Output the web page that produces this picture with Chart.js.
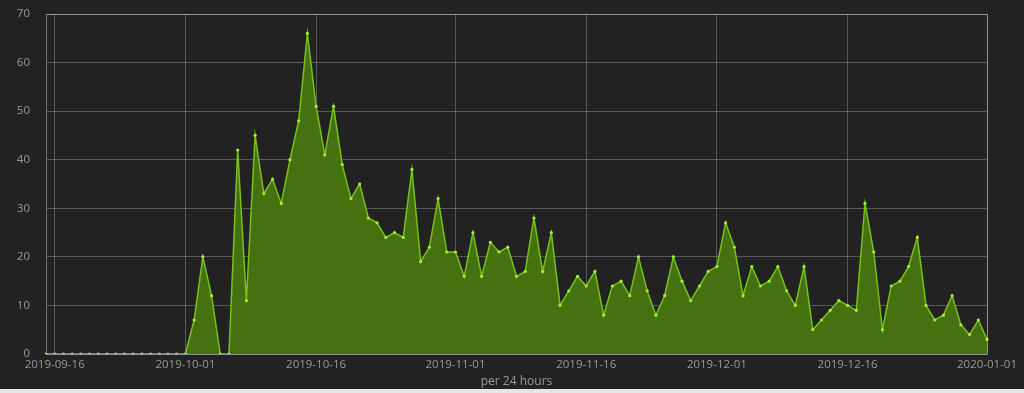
<!DOCTYPE html>
<html>
<head>
<meta charset="utf-8">
<script src="https://cdn.jsdelivr.net/npm/chart.js@4/dist/chart.umd.min.js"></script>
<style>
  html, body { margin: 0; padding: 0; background: #222222; overflow: hidden; }
  #wrap { position: relative; width: 1024px; height: 389px; }
  #strip { width: 1024px; height: 4px; background: #e6e6e6; }
</style>
</head>
<body>
<div id="wrap"><canvas id="graf"></canvas></div>
<div id="strip"></div>
<script>
// one value per day, 2019-09-15 .. 2020-01-01
var dias = [];
var inicio = new Date(Date.UTC(2019, 8, 15));
for (var i = 0; i < 109; i++) {
    var d = new Date(inicio.getTime() + i * 86400000);
    dias.push(d.toISOString().slice(0, 10));
}

var contagem = [
    0, 0, 0, 0, 0, 0, 0, 0, 0, 0, 0, 0, 0, 0, 0, 0, 0,   // 09-15 .. 10-01
    7, 20, 12, 0, 0, 42, 11, 45, 33, 36, 31, 40, 48, 66, 51, // 10-02 .. 10-16
    41, 51, 39, 32, 35, 28, 27, 24, 25, 24, 38, 19, 22, 32, 21, // 10-17 .. 10-31
    21, 16, 25, 16, 23, 21, 22, 16, 17, 28, 17, 25, 10, 13, 16, // 11-01 .. 11-15
    14, 17, 8, 14, 15, 12, 20, 13, 8, 12, 20, 15, 11, 14, 17,   // 11-16 .. 11-30
    18, 27, 22, 12, 18, 14, 15, 18, 13, 10, 18, 5, 7, 9, 11,    // 12-01 .. 12-15
    10, 9, 31, 21, 5, 14, 15, 18, 24, 10, 7, 8, 12, 6, 4, 7,    // 12-16 .. 12-31
    3                                                         // 01-01
];

var marcas = ['2019-09-16', '2019-10-01', '2019-10-16', '2019-11-01', '2019-11-16',
              '2019-12-01', '2019-12-16', '2020-01-01'];
var marcasY = [0, 10, 20, 30, 40, 50, 60, 70];

var ctx = document.getElementById('graf');

var data = {
    labels: dias,
    datasets: [{
        label: 'per 24 hours',
        data: contagem,
        fill: 'origin',
        tension: 0,
        backgroundColor: 'rgba(72, 118, 16, 0.95)',
        borderColor: '#76c21a',
        borderWidth: 1.5,
        pointRadius: 1.6,
        pointBackgroundColor: '#a6ec3c',
        pointBorderColor: '#a6ec3c',
        pointBorderWidth: 0
    }]
};

var config = {
    type: 'line',
    data: data,
    options: {
        responsive: true,
        maintainAspectRatio: false,
        animation: false,
        layout: { padding: { top: 14, right: 37, left: 0, bottom: 0 } },
        plugins: {
            legend: { display: false },
            tooltip: { enabled: false }
        },
        scales: {
            x: {
                offset: false,
                afterFit: function (scale) { scale.height = 35; },
                grid: { color: 'rgba(255,255,255,0.25)', drawTicks: false },
                border: { color: 'rgba(255,255,255,0.35)' },
                ticks: {
                    autoSkip: false,
                    maxRotation: 0,
                    padding: 4,
                    color: '#9a9a9a',
                    font: { family: 'Open Sans', size: 11.5 },
                    callback: function (value) {
                        var lbl = this.getLabelForValue(value);
                        return marcas.indexOf(lbl) >= 0 ? lbl : null;
                    }
                },
                title: {
                    display: true,
                    text: 'per 24 hours',
                    color: '#9a9a9a',
                    padding: { top: 0, bottom: 0 },
                    font: { family: 'Open Sans', size: 12 }
                }
            },
            y: {
                min: 0,
                max: 70,
                afterBuildTicks: function (scale) {
                    scale.ticks = marcasY.map(function (v) { return { value: v }; });
                },
                afterFit: function (scale) { scale.width = 46; },
                grid: {
                    color: 'rgba(255,255,255,0.25)',
                    drawTicks: true,
                    tickLength: 16,
                    tickColor: 'rgba(0,0,0,0)'
                },
                border: { color: 'rgba(255,255,255,0.35)' },
                ticks: {
                    padding: 0,
                    color: '#9a9a9a',
                    font: { family: 'Open Sans', size: 11.5 }
                }
            }
        }
    },
    plugins: [{
        id: 'contorno',
        afterDraw: function (chart) {
            var a = chart.chartArea, c = chart.ctx;
            c.save();
            c.strokeStyle = 'rgba(255,255,255,0.35)';
            c.lineWidth = 1;
            c.beginPath();
            c.moveTo(a.left, a.top + 0.5);
            c.lineTo(a.right + 0.5, a.top + 0.5);
            c.lineTo(a.right + 0.5, a.bottom);
            c.stroke();
            c.restore();
        }
    }]
};

new Chart(ctx, config);
</script>
</body>
</html>
